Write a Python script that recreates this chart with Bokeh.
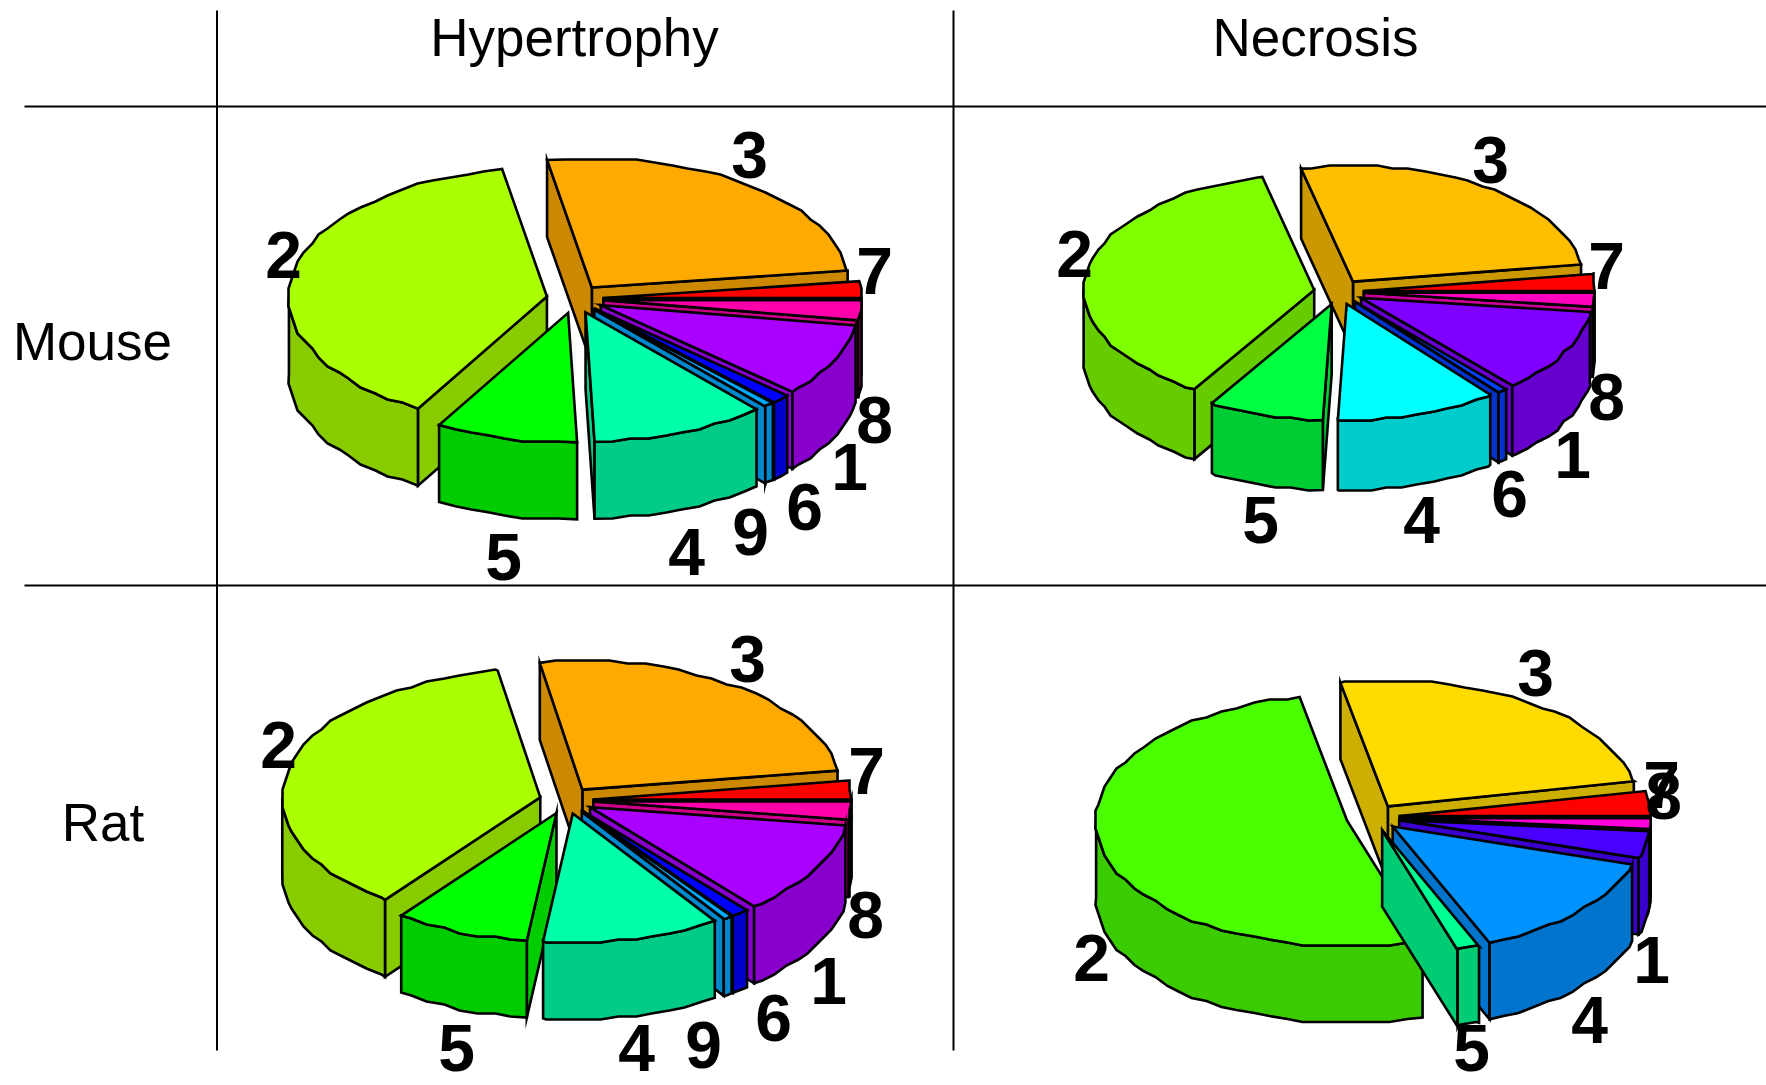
import math
from bokeh.plotting import figure, ColumnDataSource
from bokeh.core.properties import value
from bokeh.embed import file_html
from bokeh.resources import INLINE

# ---- data: slice sizes in degrees, counter-clockwise from 3 o'clock ----
mouse_hyp_labels = ["7", "3", "2", "5", "4", "9", "6", "1", "8"]
mouse_hyp_values = [7.5, 92.5, 140, 32, 39.5, 2.3, 4.2, 33, 9]
mouse_hyp_colors = ["#FF0000", "#FFAA00", "#AAFF00", "#00FF00", "#00FFAA", "#00AAFF", "#0000FF", "#AA00FF", "#FF00AA"]

mouse_nec_labels = ["7", "3", "2", "5", "4", "6", "1", "8"]
mouse_nec_values = [8.5, 94.5, 135.7, 29.1, 40.7, 2.5, 42, 7]
mouse_nec_colors = ["#FF0000", "#FFBF00", "#80FF00", "#00FF40", "#00FFFF", "#0040FF", "#8000FF", "#FF00BF"]

rat_hyp_labels = ["7", "3", "2", "5", "4", "9", "6", "1", "8"]
rat_hyp_values = [8.5, 91, 133.5, 30.4, 40, 2.1, 4, 42.3, 8.2]
rat_hyp_colors = mouse_hyp_colors

rat_nec_labels = ["7", "3", "2", "5", "4", "1", "8"]
rat_nec_values = [11.5, 89.4, 186.6, 5.2, 49.8, 12.5, 5]
rat_nec_colors = ["#FF0000", "#FFDB00", "#49FF00", "#00FF92", "#0092FF", "#4900FF", "#FF00DB"]

column_titles = ["Hypertrophy", "Necrosis"]
row_titles = ["Mouse", "Rat"]

# ---- layout (page pixels) ----
W, H = 1766, 1085
pies = [
    dict(labels=mouse_hyp_labels, values=mouse_hyp_values, colors=mouse_hyp_colors,
         cx=574.5, cy=298.5, a=258, b=129.5, depth=77, ex=28.5,
         lab={"3": (749, 154), "7": (874, 270), "8": (874, 419), "1": (849, 466), "6": (804, 506),
              "9": (750, 531), "4": (686, 551), "5": (503, 556), "2": (283, 254)}),
    dict(labels=mouse_nec_labels, values=mouse_nec_values, colors=mouse_nec_colors,
         cx=1338.4, cy=291.5, a=230.6, b=116, depth=70, ex=25,
         lab={"3": (1490, 159), "7": (1606, 265), "8": (1606, 396), "1": (1572, 454), "6": (1509, 493),
              "4": (1421, 519), "5": (1260, 519), "2": (1074, 253)}),
    dict(labels=rat_hyp_labels, values=rat_hyp_values, colors=rat_hyp_colors,
         cx=566, cy=800, a=258, b=128.5, depth=77, ex=27,
         lab={"3": (747, 658), "7": (866, 770), "8": (865, 914), "1": (828, 980), "6": (773, 1017),
              "9": (703, 1044), "4": (636, 1047), "5": (456, 1047), "2": (278, 744)}),
    dict(labels=rat_nec_labels, values=rat_nec_values, colors=rat_nec_colors,
         cx=1372.5, cy=817, a=251, b=126, depth=76.5, ex=26.7,
         lab={"3": (1535, 672), "7": (1661, 784), "8": (1663, 795), "1": (1651, 959), "4": (1589, 1019),
              "5": (1471, 1047), "2": (1091, 957)}),
]
STEP, GRID = 4.0, 3.0


def darker(c):
    r, g, b = [int(c[i:i + 2], 16) for i in (1, 3, 5)]
    return "#%02X%02X%02X" % (int(r * 0.8), int(g * 0.8), int(b * 0.8))


def q(v):
    return round(v / GRID) * GRID


def arc_angles(t1, t2):
    k1, k2 = math.ceil(t1 / STEP + 1e-6), math.floor(t2 / STEP - 1e-6)
    return [t1] + [k * STEP for k in range(k1, k2 + 1)] + [t2]


xs, ys, fills = [], [], []
for pie in pies:
    total = sum(pie["values"])
    cum, slices = 0.0, []
    for val, col in zip(pie["values"], pie["colors"]):
        t1 = cum
        cum += val / total * 360
        slices.append((t1, cum, col))
    slices.sort(key=lambda s: -math.sin(math.radians((s[0] + s[1]) / 2)))
    a, b, d = pie["a"], pie["b"], pie["depth"]
    for t1, t2, col in slices:
        mid = math.radians((t1 + t2) / 2)
        ax = pie["cx"] + pie["ex"] * math.cos(mid)
        ay = pie["cy"] - pie["ex"] * b / a * math.sin(mid)

        def P(t, round_it=True):
            r = math.radians(t)
            x, y = ax + a * math.cos(r), ay - b * math.sin(r)
            return (q(x), q(y)) if round_it else (x, y)

        dark = darker(col)
        for t, visible in ((t1, math.cos(math.radians(t1)) > 0), (t2, math.cos(math.radians(t2)) < 0)):
            if visible:
                ex_, ey_ = P(t, False)
                xs.append([ax, ex_, ex_, ax])
                ys.append([ay, ey_, ey_ + d, ay + d])
                fills.append(dark)
        lo, hi = max(t1, 180), min(t2, 360)
        if hi > lo:
            pts = []
            for t in arc_angles(lo, hi):
                pts.append(P(t, t not in (lo, hi)))
            xs.append([p[0] for p in pts] + [p[0] for p in reversed(pts)])
            ys.append([p[1] for p in pts] + [p[1] + d for p in reversed(pts)])
            fills.append(dark)
        pts = [P(t, t not in (t1, t2)) for t in arc_angles(t1, t2)]
        xs.append([ax] + [p[0] for p in pts])
        ys.append([ay] + [p[1] for p in pts])
        fills.append(col)

p = figure(width=W, height=H, x_range=(0, W), y_range=(H, 0), toolbar_location=None,
           output_backend="svg", min_border=0, outline_line_color=None)
p.axis.visible = False
p.grid.visible = False
p.background_fill_color = "white"

p.patches("xs", "ys", source=ColumnDataSource(dict(xs=xs, ys=ys, fill=fills)), fill_color="fill",
          line_color="black", line_width=2.6, line_join="miter")

p.segment(x0=[24, 24], y0=[106, 585], x1=[1766, 1766], y1=[106, 585], line_color="black", line_width=2)
p.segment(x0=[216.5, 953], y0=[10, 10], x1=[216.5, 953], y1=[1050, 1050], line_color="black", line_width=2)

lx, ly, lt = [], [], []
for pie in pies:
    for k, (x, y) in pie["lab"].items():
        lx.append(x)
        ly.append(y)
        lt.append(k)
p.text(lx, ly, text=lt, text_font=value("Liberation Sans"), text_font_style="bold", text_font_size="66px",
       text_align="center", text_baseline="middle", text_color="black")
p.text([574, 1315, 92, 102.5], [37, 37, 341, 822], text=column_titles + row_titles,
       text_font=value("Liberation Sans"), text_font_size="53px", text_align="center",
       text_baseline="middle", text_color="black")

open("out.html", "w").write(file_html(p, INLINE))
